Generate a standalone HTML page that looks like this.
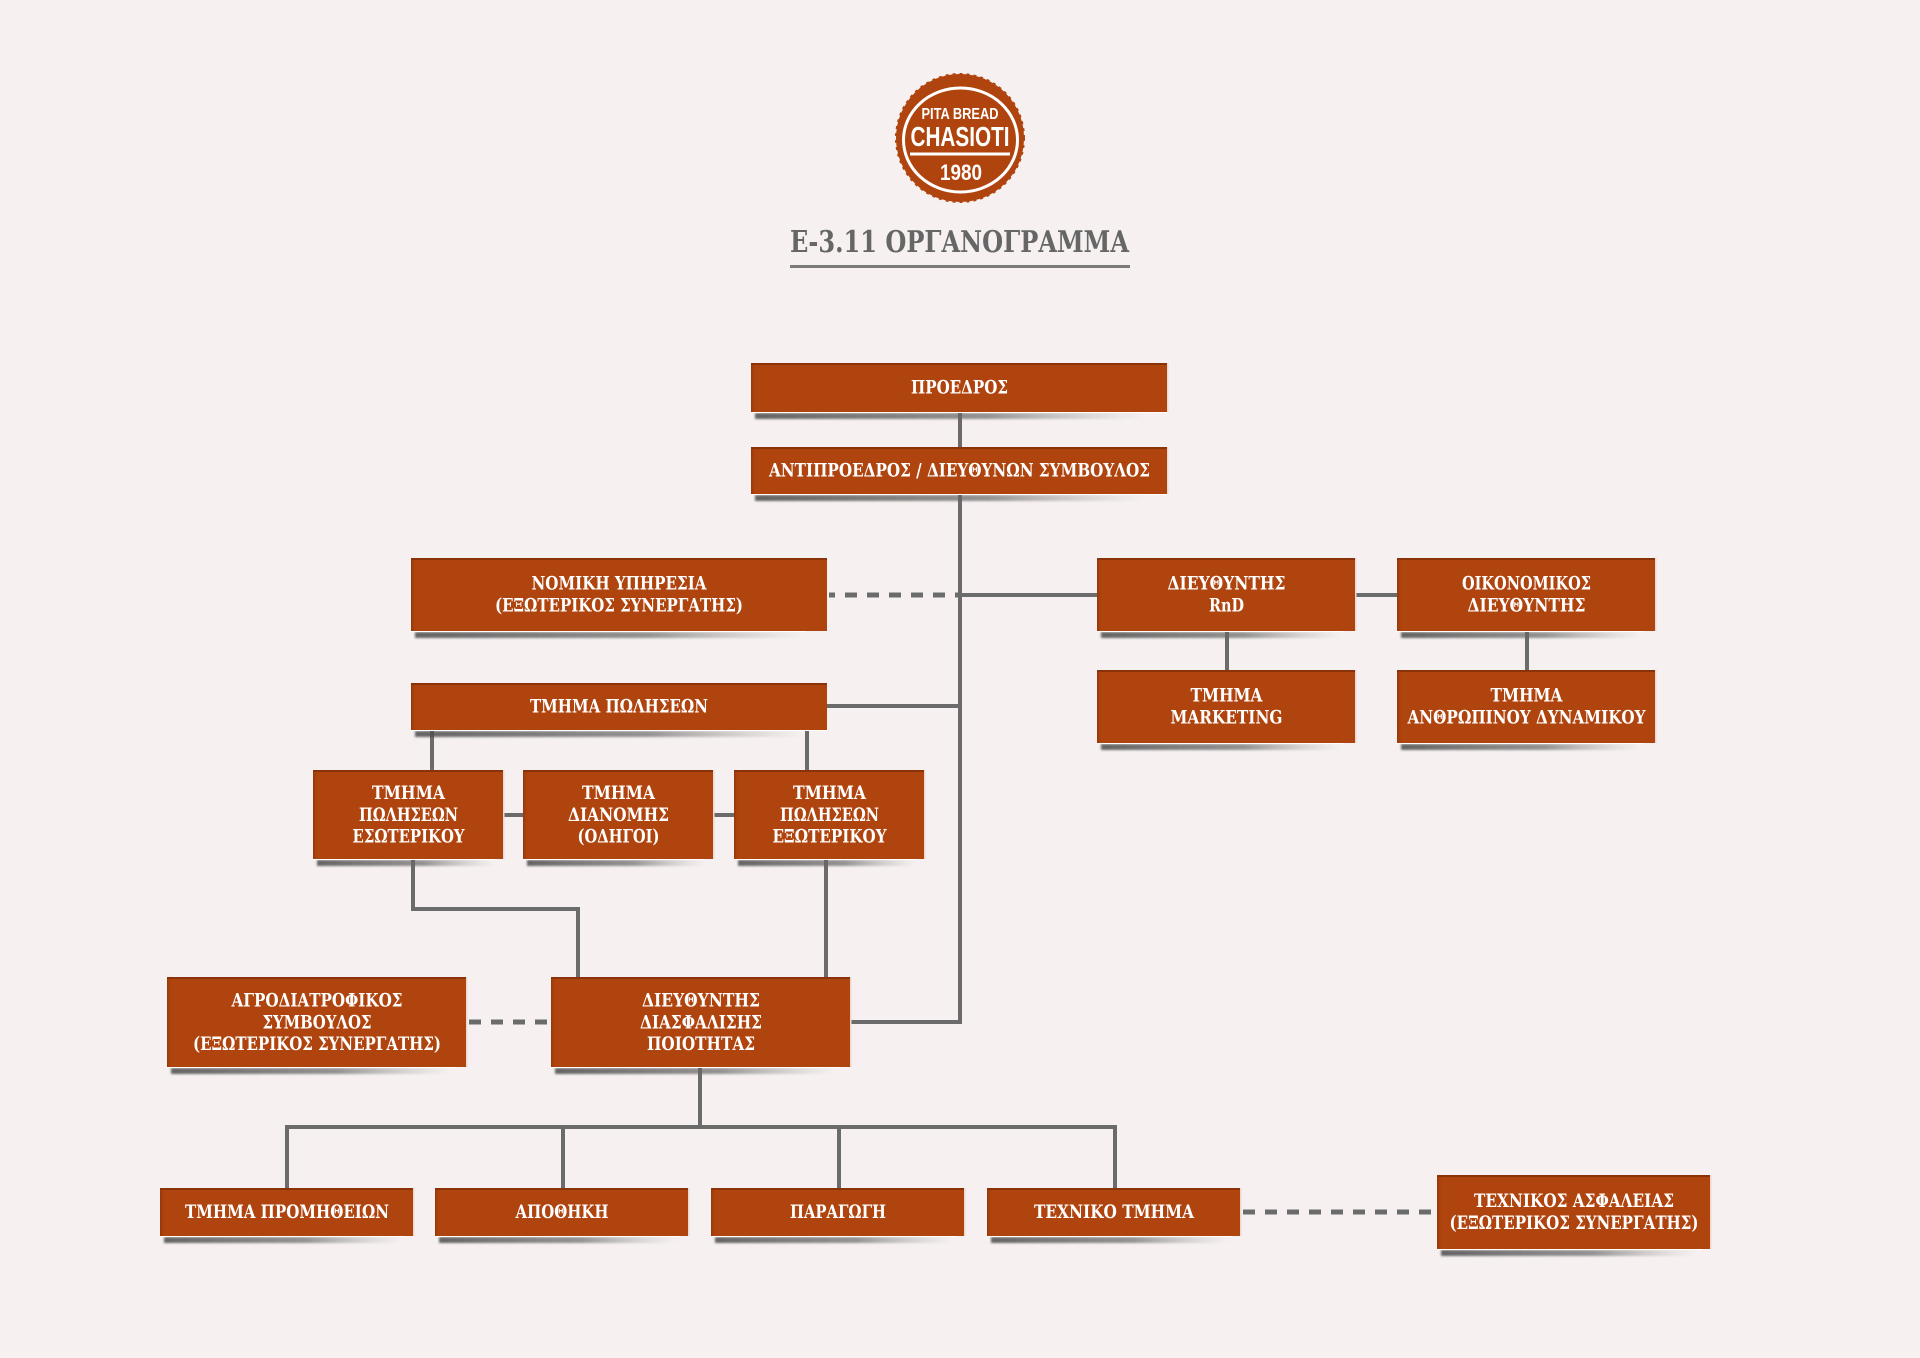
<!DOCTYPE html>
<html>
<head>
<meta charset="utf-8">
<style>
html,body{margin:0;padding:0;background:#f6f1f0;}
body{width:1920px;height:1358px;overflow:hidden;}
svg{display:block;}
.t{font-family:"DejaVu Serif","Liberation Serif",serif;font-weight:bold;font-size:19px;fill:#ffffff;}
.lg{font-family:"Liberation Sans","DejaVu Sans",sans-serif;font-weight:bold;fill:#ffffff;}
</style>
</head>
<body>
<svg width="1920" height="1358" viewBox="0 0 1920 1358" xmlns="http://www.w3.org/2000/svg">
<defs>
  <linearGradient id="sh" x1="0" y1="0" x2="1" y2="0">
    <stop offset="0" stop-color="#4a4a4a" stop-opacity="0.85"/>
    <stop offset="0.6" stop-color="#6a6a6a" stop-opacity="0.7"/>
    <stop offset="1" stop-color="#9a9a9a" stop-opacity="0"/>
  </linearGradient>
  <linearGradient id="lft" x1="0" y1="0" x2="1" y2="0">
    <stop offset="0" stop-color="#7f2d06" stop-opacity="0.55"/>
    <stop offset="1" stop-color="#b0440e" stop-opacity="0"/>
  </linearGradient>
  <filter id="bl" x="-5%" y="-100%" width="110%" height="300%"><feGaussianBlur stdDeviation="1"/></filter>
</defs>

<rect x="0" y="0" width="1920" height="1358" fill="#f6f1f0"/>

<!-- Logo -->
<g>
  <circle cx="960" cy="138" r="64" fill="#b0440e"/>
  <circle cx="960" cy="138" r="64" fill="none" stroke="#b0440e" stroke-width="2" stroke-dasharray="3 4"/>
  <ellipse cx="960.5" cy="140" rx="57" ry="52" fill="none" stroke="#ffffff" stroke-width="3"/>
  <text class="lg" x="960" y="119" font-size="16" text-anchor="middle" textLength="77" lengthAdjust="spacingAndGlyphs">PITA BREAD</text>
  <text class="lg" x="960" y="146" font-size="28" text-anchor="middle" textLength="99" lengthAdjust="spacingAndGlyphs">CHASIOTI</text>
  <rect x="910" y="152.5" width="100" height="3" fill="#ffffff"/>
  <text class="lg" x="961" y="180" font-size="22" text-anchor="middle" textLength="42" lengthAdjust="spacingAndGlyphs">1980</text>
</g>

<!-- Title -->
<text x="790" y="252" font-family="'DejaVu Serif','Liberation Serif',serif" font-weight="bold" font-size="30" fill="#666666" textLength="339" lengthAdjust="spacingAndGlyphs">Ε-3.11 ΟΡΓΑΝΟΓΡΑΜΜΑ</text>
<rect x="790" y="265" width="340" height="3" fill="#7a7a7a"/>

<!-- Connectors -->
<g stroke="#6b6b6b" stroke-width="4" fill="none" stroke-linecap="butt">
  <line x1="960" y1="412" x2="960" y2="447"/>
  <line x1="960" y1="494" x2="960" y2="1024"/>
  <line x1="958" y1="595" x2="1097" y2="595"/>
  <line x1="1356" y1="595" x2="1397" y2="595"/>
  <line x1="1227" y1="631" x2="1227" y2="670"/>
  <line x1="1527" y1="631" x2="1527" y2="670"/>
  <line x1="827" y1="706" x2="962" y2="706"/>
  <line x1="432" y1="730" x2="432" y2="770"/>
  <line x1="807" y1="730" x2="807" y2="770"/>
  <line x1="504" y1="815" x2="523" y2="815"/>
  <line x1="714" y1="815" x2="734" y2="815"/>
  <polyline points="413,859 413,909 578,909 578,977"/>
  <line x1="826" y1="859" x2="826" y2="977"/>
  <line x1="851" y1="1022" x2="962" y2="1022"/>
  <line x1="700" y1="1067" x2="700" y2="1127"/>
  <line x1="285" y1="1127" x2="1117" y2="1127"/>
  <line x1="287" y1="1127" x2="287" y2="1188"/>
  <line x1="563" y1="1127" x2="563" y2="1188"/>
  <line x1="839" y1="1127" x2="839" y2="1188"/>
  <line x1="1115" y1="1127" x2="1115" y2="1188"/>
</g>
<g stroke="#6b6b6b" stroke-width="5" fill="none" stroke-dasharray="12 10">
  <line x1="829" y1="595" x2="958" y2="595" stroke-dashoffset="6"/>
  <line x1="469" y1="1022" x2="551" y2="1022" stroke-dashoffset="0"/>
  <line x1="1243" y1="1212" x2="1437" y2="1212" stroke-dashoffset="0"/>
</g>

<!-- Boxes -->
<g id="boxes">
<!-- 1 -->
<g>
<rect x="755" y="413" width="390" height="6" fill="url(#sh)" filter="url(#bl)"/>
<rect x="751" y="411" width="417" height="2" fill="#ffffff"/>
<rect x="751" y="363" width="417" height="49" fill="#b0440e"/>
<rect x="751" y="363" width="6" height="49" fill="url(#lft)"/>
<rect x="751" y="363" width="417" height="2" fill="#8a3208"/>
<rect x="1167" y="363" width="1.5" height="49" fill="#efd9cf"/>
<text class="t" x="959.5" y="393.5" text-anchor="middle" textLength="97" lengthAdjust="spacingAndGlyphs">ΠΡΟΕΔΡΟΣ</text>
</g>
<!-- 2 -->
<g>
<rect x="755" y="495" width="390" height="6" fill="url(#sh)" filter="url(#bl)"/>
<rect x="751" y="493" width="417" height="2" fill="#ffffff"/>
<rect x="751" y="447" width="417" height="47" fill="#b0440e"/>
<rect x="751" y="447" width="6" height="47" fill="url(#lft)"/>
<rect x="751" y="447" width="417" height="2" fill="#8a3208"/>
<rect x="1167" y="447" width="1.5" height="47" fill="#efd9cf"/>
<text class="t" x="959.5" y="476.5" text-anchor="middle" textLength="381" lengthAdjust="spacingAndGlyphs">ΑΝΤΙΠΡΟΕΔΡΟΣ / ΔΙΕΥΘΥΝΩΝ ΣΥΜΒΟΥΛΟΣ</text>
</g>
<!-- 3 -->
<g>
<rect x="415" y="632" width="390" height="6" fill="url(#sh)" filter="url(#bl)"/>
<rect x="411" y="630" width="395" height="2" fill="#ffffff"/>
<rect x="411" y="558" width="416" height="73" fill="#b0440e"/>
<rect x="411" y="558" width="6" height="73" fill="url(#lft)"/>
<rect x="411" y="558" width="416" height="2" fill="#8a3208"/>
<text class="t" x="619" y="589.5" text-anchor="middle" textLength="175" lengthAdjust="spacingAndGlyphs">ΝΟΜΙΚΗ ΥΠΗΡΕΣΙΑ</text>
<text class="t" x="619" y="611.5" text-anchor="middle" textLength="248" lengthAdjust="spacingAndGlyphs">(ΕΞΩΤΕΡΙΚΟΣ ΣΥΝΕΡΓΑΤΗΣ)</text>
</g>
<!-- 4 -->
<g>
<rect x="1101" y="632" width="240" height="6" fill="url(#sh)" filter="url(#bl)"/>
<rect x="1097" y="630" width="246" height="2" fill="#ffffff"/>
<rect x="1097" y="558" width="259" height="73" fill="#b0440e"/>
<rect x="1097" y="558" width="6" height="73" fill="url(#lft)"/>
<rect x="1097" y="558" width="259" height="2" fill="#8a3208"/>
<rect x="1355" y="558" width="1.5" height="73" fill="#efd9cf"/>
<text class="t" x="1226.5" y="589.5" text-anchor="middle" textLength="118" lengthAdjust="spacingAndGlyphs">ΔΙΕΥΘΥΝΤΗΣ</text>
<text class="t" x="1226.5" y="611.5" text-anchor="middle" textLength="35" lengthAdjust="spacingAndGlyphs">RnD</text>
</g>
<!-- 5 -->
<g>
<rect x="1401" y="632" width="240" height="6" fill="url(#sh)" filter="url(#bl)"/>
<rect x="1397" y="630" width="246" height="2" fill="#ffffff"/>
<rect x="1397" y="558" width="259" height="73" fill="#b0440e"/>
<rect x="1397" y="558" width="6" height="73" fill="url(#lft)"/>
<rect x="1397" y="558" width="259" height="2" fill="#8a3208"/>
<rect x="1655" y="558" width="1.5" height="73" fill="#efd9cf"/>
<text class="t" x="1526.5" y="589.5" text-anchor="middle" textLength="129" lengthAdjust="spacingAndGlyphs">ΟΙΚΟΝΟΜΙΚΟΣ</text>
<text class="t" x="1526.5" y="611.5" text-anchor="middle" textLength="118" lengthAdjust="spacingAndGlyphs">ΔΙΕΥΘΥΝΤΗΣ</text>
</g>
<!-- 6 -->
<g>
<rect x="1101" y="744" width="240" height="6" fill="url(#sh)" filter="url(#bl)"/>
<rect x="1097" y="742" width="246" height="2" fill="#ffffff"/>
<rect x="1097" y="670" width="259" height="73" fill="#b0440e"/>
<rect x="1097" y="670" width="6" height="73" fill="url(#lft)"/>
<rect x="1097" y="670" width="259" height="2" fill="#8a3208"/>
<rect x="1355" y="670" width="1.5" height="73" fill="#efd9cf"/>
<text class="t" x="1226.5" y="701.5" text-anchor="middle" textLength="72" lengthAdjust="spacingAndGlyphs">ΤΜΗΜΑ</text>
<text class="t" x="1226.5" y="723.5" text-anchor="middle" textLength="112" lengthAdjust="spacingAndGlyphs">MARKETING</text>
</g>
<!-- 7 -->
<g>
<rect x="1401" y="744" width="240" height="6" fill="url(#sh)" filter="url(#bl)"/>
<rect x="1397" y="742" width="246" height="2" fill="#ffffff"/>
<rect x="1397" y="670" width="259" height="73" fill="#b0440e"/>
<rect x="1397" y="670" width="6" height="73" fill="url(#lft)"/>
<rect x="1397" y="670" width="259" height="2" fill="#8a3208"/>
<rect x="1655" y="670" width="1.5" height="73" fill="#efd9cf"/>
<text class="t" x="1526.5" y="701.5" text-anchor="middle" textLength="72" lengthAdjust="spacingAndGlyphs">ΤΜΗΜΑ</text>
<text class="t" x="1526.5" y="723.5" text-anchor="middle" textLength="238" lengthAdjust="spacingAndGlyphs">ΑΝΘΡΩΠΙΝΟΥ ΔΥΝΑΜΙΚΟΥ</text>
</g>
<!-- 8 -->
<g>
<rect x="415" y="731" width="390" height="6" fill="url(#sh)" filter="url(#bl)"/>
<rect x="411" y="729" width="416" height="2" fill="#ffffff"/>
<rect x="411" y="683" width="416" height="47" fill="#b0440e"/>
<rect x="411" y="683" width="6" height="47" fill="url(#lft)"/>
<rect x="411" y="683" width="416" height="2" fill="#8a3208"/>
<text class="t" x="619" y="712.5" text-anchor="middle" textLength="178" lengthAdjust="spacingAndGlyphs">ΤΜΗΜΑ ΠΩΛΗΣΕΩΝ</text>
</g>
<!-- 9 -->
<g>
<rect x="317" y="860" width="178" height="6" fill="url(#sh)" filter="url(#bl)"/>
<rect x="313" y="858" width="182" height="2" fill="#ffffff"/>
<rect x="313" y="770" width="191" height="89" fill="#b0440e"/>
<rect x="313" y="770" width="6" height="89" fill="url(#lft)"/>
<rect x="313" y="770" width="191" height="2" fill="#8a3208"/>
<rect x="503" y="770" width="1.5" height="89" fill="#efd9cf"/>
<text class="t" x="408.5" y="799.2" text-anchor="middle" textLength="73" lengthAdjust="spacingAndGlyphs">ΤΜΗΜΑ</text>
<text class="t" x="408.5" y="821" text-anchor="middle" textLength="99" lengthAdjust="spacingAndGlyphs">ΠΩΛΗΣΕΩΝ</text>
<text class="t" x="408.5" y="842.7" text-anchor="middle" textLength="112" lengthAdjust="spacingAndGlyphs">ΕΣΩΤΕΡΙΚΟΥ</text>
</g>
<!-- 10 -->
<g>
<rect x="527" y="860" width="178" height="6" fill="url(#sh)" filter="url(#bl)"/>
<rect x="523" y="858" width="182" height="2" fill="#ffffff"/>
<rect x="523" y="770" width="191" height="89" fill="#b0440e"/>
<rect x="523" y="770" width="6" height="89" fill="url(#lft)"/>
<rect x="523" y="770" width="191" height="2" fill="#8a3208"/>
<rect x="713" y="770" width="1.5" height="89" fill="#efd9cf"/>
<text class="t" x="618.5" y="799.2" text-anchor="middle" textLength="73" lengthAdjust="spacingAndGlyphs">ΤΜΗΜΑ</text>
<text class="t" x="618.5" y="821" text-anchor="middle" textLength="101" lengthAdjust="spacingAndGlyphs">ΔΙΑΝΟΜΗΣ</text>
<text class="t" x="618.5" y="842.7" text-anchor="middle" textLength="82" lengthAdjust="spacingAndGlyphs">(ΟΔΗΓΟΙ)</text>
</g>
<!-- 11 -->
<g>
<rect x="738" y="860" width="178" height="6" fill="url(#sh)" filter="url(#bl)"/>
<rect x="734" y="858" width="182" height="2" fill="#ffffff"/>
<rect x="734" y="770" width="191" height="89" fill="#b0440e"/>
<rect x="734" y="770" width="6" height="89" fill="url(#lft)"/>
<rect x="734" y="770" width="191" height="2" fill="#8a3208"/>
<rect x="924" y="770" width="1.5" height="89" fill="#efd9cf"/>
<text class="t" x="829.5" y="799.2" text-anchor="middle" textLength="73" lengthAdjust="spacingAndGlyphs">ΤΜΗΜΑ</text>
<text class="t" x="829.5" y="821" text-anchor="middle" textLength="99" lengthAdjust="spacingAndGlyphs">ΠΩΛΗΣΕΩΝ</text>
<text class="t" x="829.5" y="842.7" text-anchor="middle" textLength="114" lengthAdjust="spacingAndGlyphs">ΕΞΩΤΕΡΙΚΟΥ</text>
</g>
<!-- 12 -->
<g>
<rect x="171" y="1068" width="280" height="6" fill="url(#sh)" filter="url(#bl)"/>
<rect x="167" y="1066" width="290" height="2" fill="#ffffff"/>
<rect x="167" y="977" width="300" height="90" fill="#b0440e"/>
<rect x="167" y="977" width="6" height="90" fill="url(#lft)"/>
<rect x="167" y="977" width="300" height="2" fill="#8a3208"/>
<rect x="466" y="977" width="1.5" height="90" fill="#efd9cf"/>
<text class="t" x="317" y="1006.5" text-anchor="middle" textLength="171" lengthAdjust="spacingAndGlyphs">ΑΓΡΟΔΙΑΤΡΟΦΙΚΟΣ</text>
<text class="t" x="317" y="1028.3" text-anchor="middle" textLength="109" lengthAdjust="spacingAndGlyphs">ΣΥΜΒΟΥΛΟΣ</text>
<text class="t" x="317" y="1050" text-anchor="middle" textLength="248" lengthAdjust="spacingAndGlyphs">(ΕΞΩΤΕΡΙΚΟΣ ΣΥΝΕΡΓΑΤΗΣ)</text>
</g>
<!-- 13 -->
<g>
<rect x="555" y="1068" width="280" height="6" fill="url(#sh)" filter="url(#bl)"/>
<rect x="551" y="1066" width="290" height="2" fill="#ffffff"/>
<rect x="551" y="977" width="300" height="90" fill="#b0440e"/>
<rect x="551" y="977" width="6" height="90" fill="url(#lft)"/>
<rect x="551" y="977" width="300" height="2" fill="#8a3208"/>
<rect x="850" y="977" width="1.5" height="90" fill="#efd9cf"/>
<text class="t" x="701" y="1006.5" text-anchor="middle" textLength="118" lengthAdjust="spacingAndGlyphs">ΔΙΕΥΘΥΝΤΗΣ</text>
<text class="t" x="701" y="1028.3" text-anchor="middle" textLength="122" lengthAdjust="spacingAndGlyphs">ΔΙΑΣΦΑΛΙΣΗΣ</text>
<text class="t" x="701" y="1050" text-anchor="middle" textLength="108" lengthAdjust="spacingAndGlyphs">ΠΟΙΟΤΗΤΑΣ</text>
</g>
<!-- 14 -->
<g>
<rect x="164" y="1237" width="238" height="6" fill="url(#sh)" filter="url(#bl)"/>
<rect x="160" y="1235" width="245" height="2" fill="#ffffff"/>
<rect x="160" y="1188" width="254" height="48" fill="#b0440e"/>
<rect x="160" y="1188" width="6" height="48" fill="url(#lft)"/>
<rect x="160" y="1188" width="254" height="2" fill="#8a3208"/>
<rect x="413" y="1188" width="1.5" height="48" fill="#efd9cf"/>
<text class="t" x="287" y="1218" text-anchor="middle" textLength="204" lengthAdjust="spacingAndGlyphs">ΤΜΗΜΑ ΠΡΟΜΗΘΕΙΩΝ</text>
</g>
<!-- 15 -->
<g>
<rect x="439" y="1237" width="238" height="6" fill="url(#sh)" filter="url(#bl)"/>
<rect x="435" y="1235" width="245" height="2" fill="#ffffff"/>
<rect x="435" y="1188" width="254" height="48" fill="#b0440e"/>
<rect x="435" y="1188" width="6" height="48" fill="url(#lft)"/>
<rect x="435" y="1188" width="254" height="2" fill="#8a3208"/>
<rect x="688" y="1188" width="1.5" height="48" fill="#efd9cf"/>
<text class="t" x="562" y="1218" text-anchor="middle" textLength="93" lengthAdjust="spacingAndGlyphs">ΑΠΟΘΗΚΗ</text>
</g>
<!-- 16 -->
<g>
<rect x="715" y="1237" width="238" height="6" fill="url(#sh)" filter="url(#bl)"/>
<rect x="711" y="1235" width="245" height="2" fill="#ffffff"/>
<rect x="711" y="1188" width="254" height="48" fill="#b0440e"/>
<rect x="711" y="1188" width="6" height="48" fill="url(#lft)"/>
<rect x="711" y="1188" width="254" height="2" fill="#8a3208"/>
<rect x="964" y="1188" width="1.5" height="48" fill="#efd9cf"/>
<text class="t" x="838" y="1218" text-anchor="middle" textLength="96" lengthAdjust="spacingAndGlyphs">ΠΑΡΑΓΩΓΗ</text>
</g>
<!-- 17 -->
<g>
<rect x="991" y="1237" width="238" height="6" fill="url(#sh)" filter="url(#bl)"/>
<rect x="987" y="1235" width="245" height="2" fill="#ffffff"/>
<rect x="987" y="1188" width="254" height="48" fill="#b0440e"/>
<rect x="987" y="1188" width="6" height="48" fill="url(#lft)"/>
<rect x="987" y="1188" width="254" height="2" fill="#8a3208"/>
<rect x="1240" y="1188" width="1.5" height="48" fill="#efd9cf"/>
<text class="t" x="1114" y="1218" text-anchor="middle" textLength="160" lengthAdjust="spacingAndGlyphs">ΤΕΧΝΙΚΟ ΤΜΗΜΑ</text>
</g>
<!-- 18 -->
<g>
<rect x="1441" y="1250" width="255" height="6" fill="url(#sh)" filter="url(#bl)"/>
<rect x="1437" y="1248" width="265" height="2" fill="#ffffff"/>
<rect x="1437" y="1175" width="274" height="74" fill="#b0440e"/>
<rect x="1437" y="1175" width="6" height="74" fill="url(#lft)"/>
<rect x="1437" y="1175" width="274" height="2" fill="#8a3208"/>
<rect x="1710" y="1175" width="1.5" height="74" fill="#efd9cf"/>
<text class="t" x="1574" y="1207" text-anchor="middle" textLength="200" lengthAdjust="spacingAndGlyphs">ΤΕΧΝΙΚΟΣ ΑΣΦΑΛΕΙΑΣ</text>
<text class="t" x="1574" y="1229" text-anchor="middle" textLength="249" lengthAdjust="spacingAndGlyphs">(ΕΞΩΤΕΡΙΚΟΣ ΣΥΝΕΡΓΑΤΗΣ)</text>
</g>
</g>
</svg>
</body>
</html>
